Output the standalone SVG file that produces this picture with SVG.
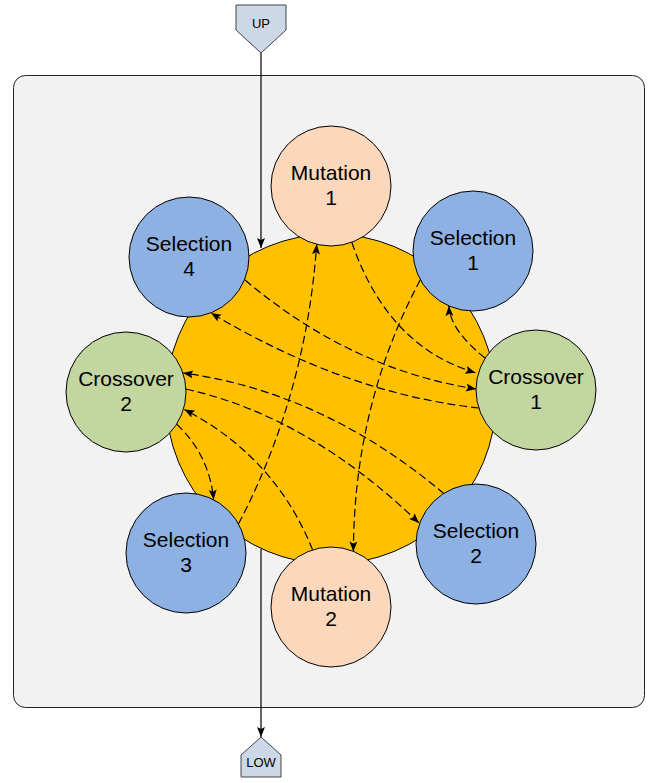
<svg xmlns="http://www.w3.org/2000/svg" width="651" height="783" viewBox="0 0 651 783">
<style>
.lbl{font-family:"Liberation Sans",Arial,Helvetica,sans-serif;font-size:21px;fill:#000;text-anchor:middle}
.sm{font-family:"Liberation Sans",Arial,Helvetica,sans-serif;font-size:13px;fill:#000;text-anchor:middle}
.node{stroke:#000;stroke-width:1}
.sel{fill:#8db1e3}
.mut{fill:#fbd8bb}
.cro{fill:#c4d6a0}
.page{fill:#cad8e7;stroke:#444;stroke-width:1}
.dash{fill:none;stroke:#000;stroke-width:1.2;stroke-dasharray:8 4;marker-end:url(#arr)}
.solid{fill:none;stroke:#000;stroke-width:1.2;marker-end:url(#arr)}
</style>
<defs>
<marker id="arr" markerUnits="userSpaceOnUse" markerWidth="11" markerHeight="9" refX="10" refY="4" orient="auto">
<path d="M0,0 L10,4 L0,8 L2,4 Z" fill="#000"/>
</marker>
</defs>
<rect id="container" x="13.5" y="75.5" width="631" height="632" rx="12" ry="12" fill="#f2f2f2" stroke="#222" stroke-width="1"/>
<g id="ring">
<circle cx="331" cy="399" r="165" fill="#ffc000" stroke="#000" stroke-width="1"/>
</g>
<g id="up">
<polygon class="page" points="236,5 286,5 286,30 261,53 236,30"/>
<text class="sm" x="261" y="28">UP</text>
</g>
<g id="low">
<polygon class="page" points="241,777 241,755 261,737 281,755 281,777"/>
<text class="sm" x="261" y="767">LOW</text>
</g>
<g id="connectors">
<path class="solid" d="M261,53 L261,248"/>
<path class="solid" d="M261,549 L261,737"/>
<path class="dash" d="M238.5,523.9 Q306,395 316.7,244.3"/>
<path class="dash" d="M420.3,279.8 Q354,404 353.4,551.4"/>
<path class="dash" d="M351.8,242.3 Q387.5,346.5 475.4,372.7"/>
<path class="dash" d="M312.6,549.9 Q275.5,457 184.4,409.5"/>
<path class="dash" d="M176.6,424.1 Q209.5,455 213.6,499.7"/>
<path class="dash" d="M485,358 Q450,330 448.9,306"/>
<path class="dash" d="M245,280 Q351,369.5 476,389"/>
<path class="dash" d="M479,408 Q345.5,393.5 211,313"/>
<path class="dash" d="M444.3,493.9 Q323,392 183,373"/>
<path class="dash" d="M186,389 Q308.5,416.5 419,523"/>
</g>
<g id="mutation1">
<circle class="node mut" cx="331" cy="186" r="60"/>
<text class="lbl" x="331" y="180">Mutation</text>
<text class="lbl" x="331" y="205">1</text>
</g>
<g id="selection1">
<circle class="node sel" cx="473" cy="251" r="60"/>
<text class="lbl" x="473" y="245">Selection</text>
<text class="lbl" x="473" y="270">1</text>
</g>
<g id="crossover1">
<circle class="node cro" cx="536" cy="390" r="60"/>
<text class="lbl" x="536" y="384">Crossover</text>
<text class="lbl" x="536" y="409">1</text>
</g>
<g id="selection2">
<circle class="node sel" cx="476" cy="544" r="60"/>
<text class="lbl" x="476" y="538">Selection</text>
<text class="lbl" x="476" y="563">2</text>
</g>
<g id="mutation2">
<circle class="node mut" cx="331" cy="607" r="60"/>
<text class="lbl" x="331" y="601">Mutation</text>
<text class="lbl" x="331" y="626">2</text>
</g>
<g id="selection3">
<circle class="node sel" cx="186" cy="553" r="60"/>
<text class="lbl" x="186" y="547">Selection</text>
<text class="lbl" x="186" y="572">3</text>
</g>
<g id="crossover2">
<circle class="node cro" cx="126" cy="392" r="60"/>
<text class="lbl" x="126" y="386">Crossover</text>
<text class="lbl" x="126" y="411">2</text>
</g>
<g id="selection4">
<circle class="node sel" cx="189" cy="257" r="60"/>
<text class="lbl" x="189" y="251">Selection</text>
<text class="lbl" x="189" y="276">4</text>
</g>
</svg>
